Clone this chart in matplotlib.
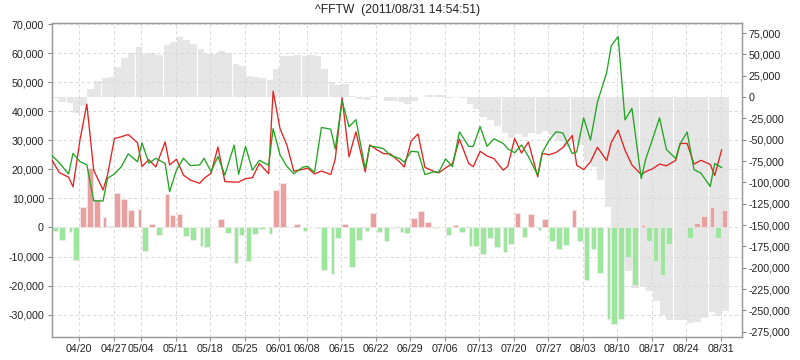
import numpy as np
import pandas as pd
import matplotlib
matplotlib.use("Agg")
import matplotlib.pyplot as plt
from matplotlib.ticker import FuncFormatter

plt.rcParams['font.family'] = ['Liberation Sans', 'DejaVu Sans']

title = "^FFTW  (2011/08/31 14:54:51)"

# Taiwan trading days, mid April to end of August 2011
holidays = ["2011-05-02", "2011-06-06"]
dates = pd.bdate_range("2011-04-14", "2011-08-31", freq="C", holidays=holidays)

# daily net (bars, left axis)
net = [-1200, -4400, -1600, -11300, 7100, 20500, 9400, 3700, 500, 11900,
       9800, 6000, 6400, -8100, 1250, -2700, 11600, 4400, 4700, -3100,
       -4400, -6400, -6900, 200, 3000, -2000, -12300, -2500, -11400, -2100,
       -500, -2300, 13000, 15200, 0, 1200, -1100, 0, -200, -14800,
       -15900, -3800, 1200, -13500, -4200, -1100, 4900, -1400, -4500, -200,
       -1600, -1900, 3200, 5500, 1850, -100, 0, -2750, 800, -1650,
       -6250, -6550, -9300, -3700, -6850, -8550, -5650, 4950, -3450, 4650,
       -1000, 2900, -4750, -7300, -6200, 5850, -4500, -18000, -7400, -15600,
       -31600, -33200, -31600, -10300, -19900, 1000, -4500, -11400, -16400, -5750,
       0, 0, -3700, 1500, 3800, 7000, -3700, 5850]

# running total (gray bars, right axis)
cumulative = [-1200, -5500, -7000, -18500, -11000, 9300, 18600, 22500, 23200, 35000,
              45300, 51300, 58200, 50200, 51400, 48900, 60800, 65000, 69900, 67000,
              62600, 56200, 50300, 50500, 53400, 51400, 38800, 36300, 25000, 22900,
              22400, 20000, 32800, 48500, 48500, 49700, 48600, 48800, 48600, 33100,
              17300, 13600, 14800, 1000, -2400, -3500, 1200, -100, -4200, -4400,
              -6200, -8300, -5100, 300, 2100, 2000, 2000, -700, 100, -1500,
              -7700, -14200, -23500, -27200, -34000, -42500, -48200, -43200, -46600, -42000,
              -43000, -40000, -44800, -52000, -58200, -52300, -56800, -74800, -82100, -97700,
              -129200, -162300, -193900, -204200, -224100, -223000, -227500, -238900, -255300, -261000,
              -261000, -261000, -264700, -263200, -259400, -252400, -256100, -250200]

red_line = [23000, 18900, 17300, 14000, 30000, 42400, 19700, 12900, 18000, 30600,
            31200, 32000, 29100, 21000, 23300, 20800, 29400, 21500, 23500, 18000,
            16300, 15200, 16900, 18600, 27700, 15800, 15600, 15600, 16800, 17100,
            22000, 18500, 46900, 34000, 28300, 19400, 20000, 20400, 18400, 19400,
            18200, 23500, 44600, 24300, 32900, 19100, 28400, 26800, 25400, 25300,
            22500, 20800, 29700, 32200, 20700, 19200, 18800, 20500, 22000, 30400,
            22000, 20900, 26200, 24600, 23700, 19700, 21000, 30600, 25600, 29400,
            17400, 25500, 25000, 25800, 27500, 31600, 21400, 19900, 22600, 27600,
            23000, 29200, 33500, 26600, 21500, 18200, 19200, 20200, 21800, 21200,
            23100, 28900, 28900, 21800, 23100, 21700, 17900, 26700]

green_line = [24600, 22300, 18400, 25500, 22700, 21500, 9200, 9100, 16900, 18400,
              20900, 25300, 22600, 29100, 22100, 23800, 22000, 12300, 19800, 23800,
              21300, 21500, 23800, 19200, 24400, 18000, 28300, 18300, 27900, 19700,
              23100, 21400, 34000, 25000, 21000, 18500, 20800, 21000, 19000, 34400,
              33800, 27000, 43500, 34600, 37100, 20200, 28000, 27700, 27100, 24800,
              23700, 22500, 26200, 26000, 18200, 19200, 19000, 23600, 20900, 32900,
              27900, 27900, 34700, 27900, 30500, 28900, 27100, 25700, 28400, 24400,
              18000, 25700, 30000, 32900, 32500, 25400, 26000, 37700, 30100, 43100,
              53400, 62500, 65700, 37000, 41000, 16800, 23500, 30500, 37700, 26800,
              23700, 28900, 32800, 19900, 18700, 14100, 22000, 20600]

net = np.array(net)
idx = np.arange(len(dates))
# first session after a weekend / holiday is drawn a bit narrower
after_gap = np.r_[False, np.diff(dates.values).astype("timedelta64[D]").astype(int) > 1]
x_pt = idx + np.where(after_gap, 0.45, 0.1)
bar_w = idx + 0.95 - x_pt
gray_left = idx + np.where(after_gap, 0.25, 0.1)
gray_w = idx + 1.1 - gray_left

fig = plt.figure(figsize=(8, 3.6), dpi=100)
ax = fig.add_axes([0.0654, 0.0647, 0.8625, 0.8706])
ax2 = ax.twinx()
ax.set_zorder(ax2.get_zorder() + 1)
ax.patch.set_visible(False)

ax2.bar(gray_left, cumulative, width=gray_w, align="edge", color="#e6e6e6", linewidth=0)

colors = np.where(net >= 0, "#e8a0a0", "#9de69d")
ax.bar(x_pt, net, width=bar_w, align="edge", color=colors,
       edgecolor="#f3eded", linewidth=0.5, zorder=2)
ax.plot(x_pt, red_line, color="#e32222", lw=0.95, zorder=3)
ax.plot(x_pt, green_line, color="#22a522", lw=0.95, zorder=4)

ax.set_xlim(0.1, 100.1)
ax.set_ylim(-37600, 70250)
ax2.set_ylim(-280900, 86400)

ax.set_yticks(range(-30000, 70001, 10000))
ax2.set_yticks(range(-275000, 75001, 25000))
fmt = FuncFormatter(lambda v, p: f"{v:,.0f}")
ax.yaxis.set_major_formatter(fmt)
ax2.yaxis.set_major_formatter(fmt)

wed = dates.weekday == 2
ax.set_xticks(idx[wed])
ax.set_xticklabels(dates[wed].strftime("%m/%d"))

ax.set_axisbelow(True)
ax.grid(True, linestyle=(0, (3, 3)), color="#d6d6d6", linewidth=0.7)

for a in (ax, ax2):
    for s in a.spines.values():
        s.set_color("#9a9a9a")
        s.set_linewidth(0.9)
    a.tick_params(direction="out", length=3, width=0.8, color="#8a8a8a",
                  labelsize=7.7, labelcolor="#222222")
ax.tick_params(axis="y", pad=3)
ax.tick_params(axis="x", pad=2.5)
ax2.tick_params(axis="y", pad=1.5)

fig.text(0.4975, 0.972, title, ha="center", va="center", fontsize=8.7, color="#222222")

fig.savefig("out.png", dpi=100)
